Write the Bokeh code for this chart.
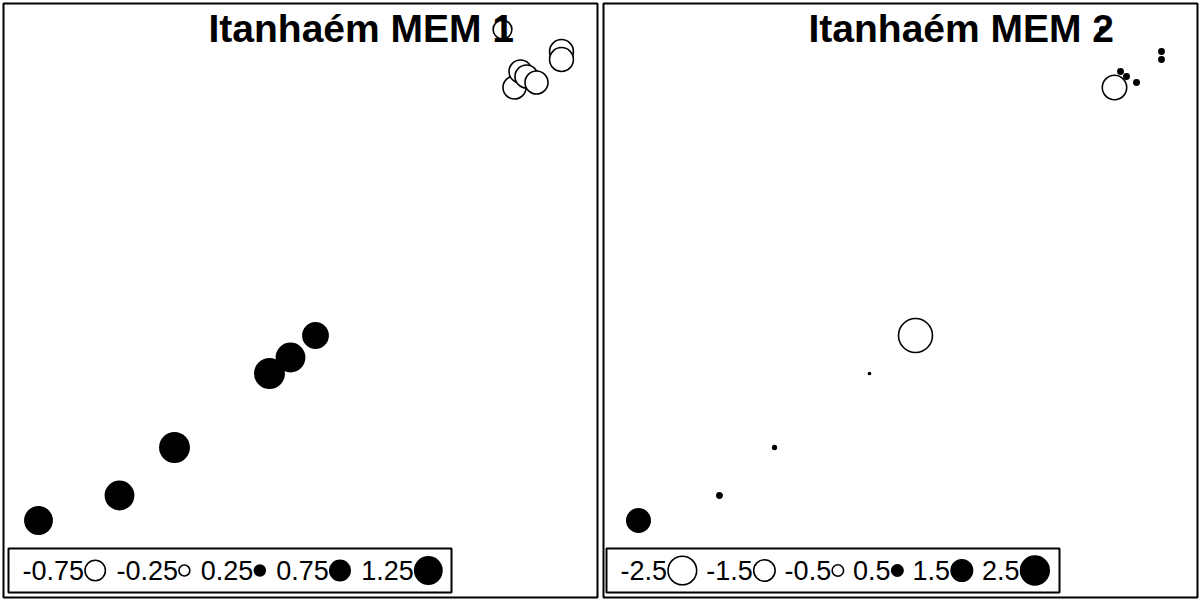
from bokeh.plotting import figure
from bokeh.layouts import row
from bokeh.models import Range1d, Label, BoxAnnotation, ColumnDataSource
from bokeh.core.properties import value
from bokeh.embed import file_html
from bokeh.resources import INLINE

# site coordinates (same sites in both panels)
site_x = [35, 116, 171, 266, 287, 312, 499, 511, 517, 523, 533, 558, 558]
site_y = [77, 102, 150, 224, 240, 262, 568, 510, 526, 521, 515, 546, 538]

# MEM eigenvector values per site
mem1 = [1.25, 1.33, 1.42, 1.42, 1.33, 1.09, -0.65, -0.93, -0.93, -0.93, -0.93, -0.99, -0.99]
mem2 = [1.75, 0.13, 0.07, 0.026, 0.0, -3.37, 0.13, -1.89, 0.13, 0.13, 0.13, 0.13, 0.13]

titles = ["Itanhaém MEM 1", "Itanhaém MEM 2"]
breaks1 = [-0.75, -0.25, 0.25, 0.75, 1.25]
breaks2 = [-2.5, -1.5, -0.5, 0.5, 1.5, 2.5]
break_labels1 = ["-0.75", "-0.25", "0.25", "0.75", "1.25"]
break_labels2 = ["-2.5", "-1.5", "-0.5", "0.5", "1.5", "2.5"]

FONT = "Liberation Sans"
LEG_FS = 27
CHAR_W = {"-": 333, ".": 278}


def text_w(s, fs):
    return sum(CHAR_W.get(c, 556) for c in s) * fs / 1000.0


def sym_size(v, scale):
    return scale * abs(v) ** 0.57


def panel(vals, title, breaks, labels, scale, leg_x0, leg_right, gap):
    p = figure(width=600, height=600, x_range=Range1d(0, 594), y_range=Range1d(0, 594),
               x_axis_location=None, y_axis_location=None, toolbar_location=None,
               output_backend="svg", min_border_left=3, min_border_right=3,
               min_border_top=3, min_border_bottom=3, title_location=None)
    p.grid.visible = False
    p.outline_line_color = "black"
    p.outline_line_width = 2
    p.background_fill_color = "white"
    p.border_fill_color = "white"

    lab = Label(x=205, y=569, text=title, text_font=FONT, text_font_style="bold",
                text_font_size="39px", text_color="black", text_baseline="alphabetic",
                text_align="left")
    p.add_layout(lab)

    src = ColumnDataSource(dict(
        x=site_x, y=site_y,
        s=[sym_size(v, scale) for v in vals],
        f=["black" if v > 0 else "white" for v in vals]))
    p.scatter("x", "y", size="s", fill_color="f", line_color="black", line_width=1.6,
              source=src)

    # legend
    ly = 27
    box = BoxAnnotation(left=leg_x0 - 14, right=leg_right, bottom=5, top=49,
                        fill_color="white", fill_alpha=1, line_color="black",
                        line_alpha=1, line_width=2, level="underlay")
    p.add_layout(box)
    tx, mx, ms, mf = [], [], [], []
    x = leg_x0
    for b, l in zip(breaks, labels):
        s = sym_size(b, scale)
        tx.append(x)
        x += text_w(l, LEG_FS)
        mx.append(x + s / 2 + 1)
        ms.append(s)
        mf.append("black" if b > 0 else "white")
        x += s + 2 + gap
    p.text(x=tx, y=[ly] * len(tx), text=labels, text_font=value(FONT),
           text_font_size=f"{LEG_FS}px", text_baseline="middle", text_align="left",
           text_color="black")
    p.scatter(x=mx, y=[ly] * len(mx), size=ms, fill_color=mf, line_color="black",
              line_width=1.6)
    return p


p1 = panel(mem1, titles[0], breaks1, break_labels1, 24.0, 19, 448, 10)
p2 = panel(mem2, titles[1], breaks2, break_labels2, 17.0, 17, 456, 8.5)
layout = row(p1, p2)
open("out.html", "w").write(file_html(layout, INLINE))
